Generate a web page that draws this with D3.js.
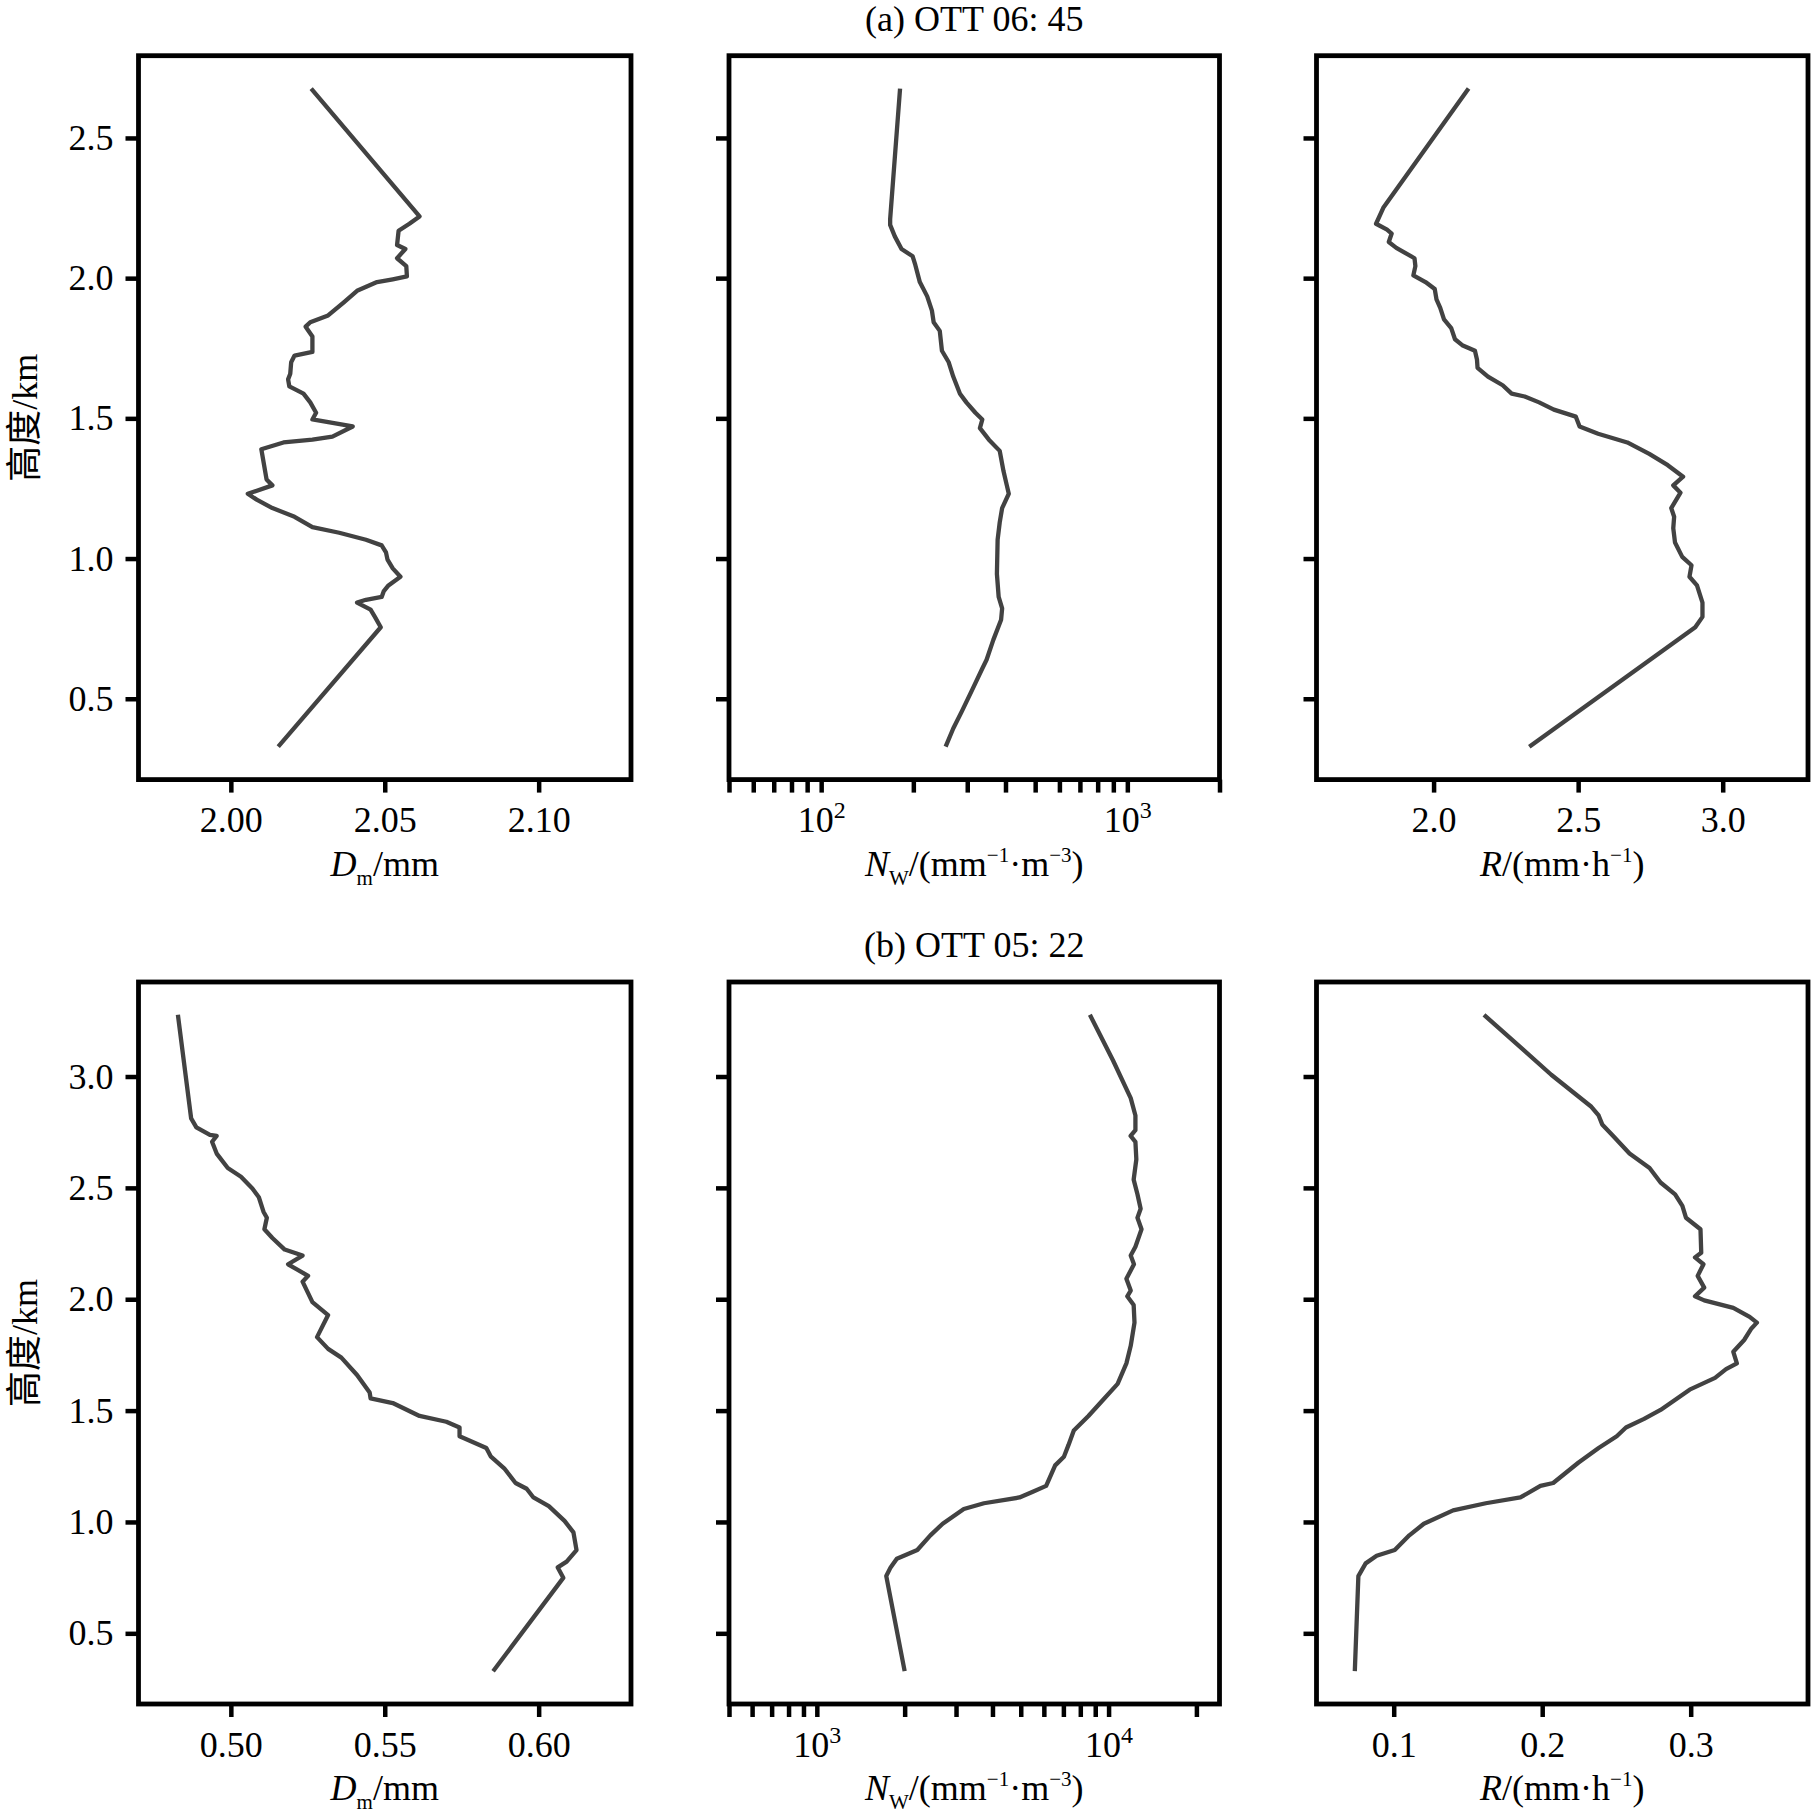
<!DOCTYPE html>
<html>
<head>
<meta charset="utf-8">
<script src="https://cdn.jsdelivr.net/npm/d3@7/dist/d3.min.js"></script>
<style>
  body { margin: 0; background: #fff; }
  text { font-family: "Liberation Serif", "Tinos", "Times New Roman", "DejaVu Serif", "Noto Sans CJK SC", serif; fill: #000; }
</style>
</head>
<body>
<svg id="chart" width="1819" height="1818"></svg>
<script>
// ---- (a) OTT 06:45 ----
var dmA_h = [2.676, 2.220, 2.194, 2.169, 2.118, 2.104, 2.071, 2.043, 2.006, 1.996, 1.986, 1.955, 1.914, 1.867, 1.843, 1.827, 1.792, 1.737, 1.724, 1.700, 1.659, 1.639, 1.614, 1.588, 1.557, 1.520, 1.496, 1.471, 1.435, 1.424, 1.414, 1.390, 1.282, 1.261, 1.231, 1.210, 1.180, 1.149, 1.112, 1.092, 1.067, 1.047, 1.022, 0.996, 0.965, 0.935, 0.904, 0.884, 0.863, 0.853, 0.843, 0.818, 0.792, 0.755, 0.329];
var dmA_v = [2.0261, 2.0613, 2.0580, 2.0545, 2.0540, 2.0567, 2.0540, 2.0570, 2.0572, 2.0526, 2.0475, 2.0410, 2.0367, 2.0316, 2.0258, 2.0243, 2.0265, 2.0265, 2.0207, 2.0196, 2.0193, 2.0186, 2.0190, 2.0236, 2.0258, 2.0277, 2.0265, 2.0396, 2.0330, 2.0265, 2.0171, 2.0099, 2.0116, 2.0135, 2.0055, 2.0084, 2.0135, 2.0207, 2.0265, 2.0352, 2.0439, 2.0490, 2.0504, 2.0509, 2.0526, 2.0551, 2.0512, 2.0497, 2.0490, 2.0439, 2.0410, 2.0454, 2.0468, 2.0487, 2.0154];

var nwA_h = [2.676, 2.210, 2.190, 2.149, 2.104, 2.078, 2.047, 1.986, 1.935, 1.884, 1.843, 1.812, 1.741, 1.700, 1.649, 1.588, 1.557, 1.520, 1.496, 1.465, 1.424, 1.384, 1.312, 1.261, 1.231, 1.180, 1.129, 1.067, 0.945, 0.863, 0.822, 0.782, 0.710, 0.639, 0.608, 0.537, 0.455, 0.394, 0.329];
var nwA_v = [181, 168, 168, 174, 183, 199, 203, 210, 222, 230, 233, 244, 248, 261, 270, 284, 298, 319, 336, 330, 353, 383, 394, 404, 410, 390, 383, 377, 375, 380, 390, 387, 365, 347, 336, 313, 288, 270, 255];

var rA_h = [2.676, 2.251, 2.194, 2.173, 2.159, 2.129, 2.108, 2.071, 2.043, 2.010, 1.986, 1.961, 1.924, 1.894, 1.853, 1.822, 1.782, 1.761, 1.741, 1.710, 1.680, 1.649, 1.618, 1.588, 1.578, 1.557, 1.531, 1.506, 1.471, 1.445, 1.414, 1.373, 1.333, 1.292, 1.261, 1.235, 1.180, 1.149, 1.108, 1.057, 1.006, 0.976, 0.935, 0.904, 0.843, 0.792, 0.755, 0.329];
var rA_v = [2.121, 1.826, 1.801, 1.839, 1.855, 1.845, 1.871, 1.934, 1.937, 1.930, 1.972, 2.004, 2.010, 2.023, 2.036, 2.061, 2.074, 2.099, 2.143, 2.150, 2.152, 2.188, 2.239, 2.270, 2.315, 2.365, 2.416, 2.492, 2.505, 2.569, 2.670, 2.746, 2.810, 2.863, 2.829, 2.854, 2.822, 2.832, 2.829, 2.835, 2.860, 2.892, 2.885, 2.911, 2.930, 2.930, 2.905, 2.331];

// ---- (b) OTT 05:22 ----
var dmB_h = [3.277, 2.812, 2.772, 2.738, 2.733, 2.707, 2.654, 2.589, 2.550, 2.497, 2.458, 2.393, 2.366, 2.314, 2.275, 2.223, 2.196, 2.157, 2.105, 2.079, 1.987, 1.929, 1.830, 1.777, 1.738, 1.660, 1.581, 1.555, 1.534, 1.476, 1.450, 1.424, 1.385, 1.332, 1.293, 1.241, 1.175, 1.149, 1.110, 1.071, 1.005, 0.953, 0.874, 0.822, 0.796, 0.749, 0.330];
var dmB_v = [0.4828, 0.4871, 0.4888, 0.4932, 0.4954, 0.4939, 0.4954, 0.4990, 0.5033, 0.5070, 0.5091, 0.5106, 0.5117, 0.5109, 0.5135, 0.5175, 0.5233, 0.5186, 0.5251, 0.5233, 0.5265, 0.5316, 0.5280, 0.5316, 0.5359, 0.5410, 0.5451, 0.5454, 0.5526, 0.5613, 0.5700, 0.5743, 0.5743, 0.5830, 0.5845, 0.5888, 0.5925, 0.5961, 0.5983, 0.6033, 0.6084, 0.6113, 0.6123, 0.6091, 0.6062, 0.6080, 0.5852];

var nwB_h = [3.277, 3.073, 2.903, 2.825, 2.759, 2.733, 2.707, 2.628, 2.537, 2.471, 2.406, 2.366, 2.314, 2.236, 2.196, 2.157, 2.092, 2.039, 2.013, 1.974, 1.895, 1.791, 1.712, 1.620, 1.542, 1.476, 1.411, 1.346, 1.293, 1.254, 1.162, 1.136, 1.110, 1.084, 1.058, 0.992, 0.940, 0.874, 0.835, 0.809, 0.796, 0.757, 0.330];
var nwB_v = [8630, 10350, 11910, 12360, 12360, 11900, 12360, 12450, 12190, 12560, 12880, 12560, 12970, 12360, 11910, 12220, 11510, 11910, 11590, 12190, 12270, 11910, 11510, 10740, 9480, 8530, 7600, 7290, 7030, 6560, 6110, 5500, 4950, 3740, 3190, 2700, 2450, 2210, 1880, 1820, 1790, 1730, 2000];

var rB_h = [3.277, 3.008, 2.864, 2.825, 2.785, 2.733, 2.654, 2.589, 2.524, 2.471, 2.419, 2.366, 2.314, 2.209, 2.188, 2.157, 2.105, 2.052, 2.013, 1.995, 1.961, 1.921, 1.895, 1.869, 1.817, 1.764, 1.712, 1.686, 1.647, 1.594, 1.503, 1.463, 1.424, 1.385, 1.332, 1.267, 1.175, 1.162, 1.110, 1.084, 1.052, 0.992, 0.940, 0.874, 0.848, 0.814, 0.757, 0.330];
var rB_v = [0.1608, 0.2061, 0.2331, 0.2380, 0.2404, 0.2478, 0.2588, 0.2723, 0.2797, 0.2895, 0.2944, 0.2968, 0.3066, 0.3071, 0.3029, 0.3086, 0.3047, 0.3091, 0.3029, 0.3091, 0.3287, 0.3397, 0.3446, 0.3409, 0.3360, 0.3287, 0.3311, 0.3238, 0.3164, 0.2993, 0.2797, 0.2686, 0.2564, 0.2502, 0.2380, 0.2245, 0.2074, 0.1988, 0.1853, 0.1620, 0.1400, 0.1203, 0.1105, 0.1007, 0.0885, 0.0811, 0.0762, 0.0738];

// tick values
var hTicksA = [0.5, 1.0, 1.5, 2.0, 2.5];
var hTicksB = [0.5, 1.0, 1.5, 2.0, 2.5, 3.0];
var dmTicksA = [2.00, 2.05, 2.10];
var dmTicksB = [0.50, 0.55, 0.60];
var rTicksA = [2.0, 2.5, 3.0];
var rTicksB = [0.1, 0.2, 0.3];
var nwMajorA = [100, 1000];
var nwMajorB = [1000, 10000];

var titles = ["(a) OTT 06: 45", "(b) OTT 05: 22"];

// layout (pixels)
var colX = [[138.5, 631], [729, 1219.5], [1316.5, 1808]];
var rowY = [[55.7, 779.6], [982, 1704]];
var lineColor = "#424242";
var fs = 36;
var serif = '"Liberation Serif", "Tinos", "Times New Roman", "DejaVu Serif", serif';

var svg = d3.select("#chart");

var panels = [
  { row: 0, col: 0, h: dmA_h, v: dmA_v, dom: [1.97, 2.13], ticks: dmTicksA, fmt: d3.format(".2f"), label: "dm" },
  { row: 0, col: 1, h: nwA_h, v: nwA_v, dom: [50, 2000], log: true, ticks: nwMajorA, label: "nw" },
  { row: 0, col: 2, h: rA_h, v: rA_v, dom: [1.595, 3.295], ticks: rTicksA, fmt: d3.format(".1f"), label: "r" },
  { row: 1, col: 0, h: dmB_h, v: dmB_v, dom: [0.47, 0.63], ticks: dmTicksB, fmt: d3.format(".2f"), label: "dm" },
  { row: 1, col: 1, h: nwB_h, v: nwB_v, dom: [500, 24000], log: true, ticks: nwMajorB, label: "nw" },
  { row: 1, col: 2, h: rB_h, v: rB_v, dom: [0.048, 0.379], ticks: rTicksB, fmt: d3.format(".1f"), label: "r" }
];

// shared y domain per row, matplotlib-like 5% margin
var rowDom = [0, 1].map(function (r) {
  var all = [];
  panels.filter(function (p) { return p.row === r; }).forEach(function (p) { all = all.concat(p.h); });
  var e = d3.extent(all), pad = (e[1] - e[0]) * 0.05;
  return [e[0] - pad, e[1] + pad];
});

function addSup(sel, base, sup) {
  sel.text(null);
  sel.append("tspan").text(base);
  sel.append("tspan").attr("font-size", 24).attr("dy", -14).text(sup);
}

function xLabel(g, kind, cx, yb) {
  var t = g.append("text").attr("x", cx).attr("y", yb)
    .attr("text-anchor", "middle").attr("font-size", fs)
    .style("font-family", serif);
  if (kind === "dm") {
    t.append("tspan").attr("font-style", "italic").text("D");
    t.append("tspan").attr("font-size", 21).attr("dy", 9).text("m");
    t.append("tspan").attr("dy", -9).text("/mm");
  } else if (kind === "nw") {
    t.append("tspan").attr("font-style", "italic").text("N");
    t.append("tspan").attr("font-size", 21).attr("dy", 9).text("W");
    t.append("tspan").attr("dy", -9).text("/(mm");
    t.append("tspan").attr("font-size", 21).attr("dy", -14).text("\u22121");
    t.append("tspan").attr("dy", 14).text("\u00b7m");
    t.append("tspan").attr("font-size", 21).attr("dy", -14).text("\u22123");
    t.append("tspan").attr("dy", 14).text(")");
  } else {
    t.append("tspan").attr("font-style", "italic").text("R");
    t.append("tspan").text("/(mm\u00b7h");
    t.append("tspan").attr("font-size", 21).attr("dy", -14).text("\u22121");
    t.append("tspan").attr("dy", 14).text(")");
  }
}

panels.forEach(function (p) {
  var x0 = colX[p.col][0], x1 = colX[p.col][1];
  var y0 = rowY[p.row][0], y1 = rowY[p.row][1];
  var x = (p.log ? d3.scaleLog() : d3.scaleLinear()).domain(p.dom).range([x0, x1]);
  var y = d3.scaleLinear().domain(rowDom[p.row]).range([y1, y0]);
  var g = svg.append("g");

  // curve
  var pts = p.h.map(function (h, i) { return [p.v[i], h]; });
  g.append("path")
    .datum(pts)
    .attr("fill", "none")
    .attr("stroke", lineColor)
    .attr("stroke-width", 4.3)
    .attr("stroke-linejoin", "round")
    .attr("d", d3.line().x(function (d) { return x(d[0]); }).y(function (d) { return y(d[1]); }));

  // y axis
  var hTicks = p.row === 0 ? hTicksA : hTicksB;
  var ya = g.append("g").attr("transform", "translate(" + x0 + ",0)")
    .call(d3.axisLeft(y).tickValues(hTicks).tickSize(13).tickPadding(12)
      .tickFormat(p.col === 0 ? d3.format(".1f") : function () { return ""; }));

  // x axis
  var xa;
  if (p.log) {
    var minor = x.ticks().filter(function (t) { return t >= p.dom[0] - 1e-9 && t <= p.dom[1] + 1e-9; });
    xa = g.append("g").attr("transform", "translate(0," + y1 + ")")
      .call(d3.axisBottom(x).tickValues(minor).tickSize(13).tickPadding(14)
        .tickFormat(function () { return ""; }));
    xa.selectAll(".tick text").each(function (d) {
      if (p.ticks.indexOf(d) >= 0) addSup(d3.select(this), "10", String(Math.round(Math.log10(d))));
    });
  } else {
    xa = g.append("g").attr("transform", "translate(0," + y1 + ")")
      .call(d3.axisBottom(x).tickValues(p.ticks).tickSize(13).tickPadding(14).tickFormat(p.fmt));
  }

  [ya, xa].forEach(function (a) {
    a.attr("font-family", null);
    a.select(".domain").remove();
    a.selectAll(".tick line").attr("stroke", "#000").attr("stroke-width", 4.5);
    a.selectAll(".tick text").attr("font-size", fs).attr("fill", "#000")
      .style("font-family", serif);
  });

  // frame
  g.append("rect")
    .attr("x", x0).attr("y", y0)
    .attr("width", x1 - x0).attr("height", y1 - y0)
    .attr("fill", "none").attr("stroke", "#000").attr("stroke-width", 4.8);

  xLabel(g, p.label, (x0 + x1) / 2, y1 + 96);

  if (p.col === 0) {
    var cy = (y0 + y1) / 2;
    g.append("text")
      .attr("transform", "translate(37," + cy + ") rotate(-90)")
      .attr("text-anchor", "middle")
      .attr("font-size", fs)
      .style("font-family", '"Liberation Serif", "Tinos", "DejaVu Serif", "Noto Sans CJK SC", serif')
      .text("高度/km");
  }
});

titles.forEach(function (t, r) {
  svg.append("text")
    .attr("x", (colX[1][0] + colX[1][1]) / 2)
    .attr("y", rowY[r][0] - 25)
    .attr("text-anchor", "middle")
    .attr("font-size", fs)
    .style("font-family", serif)
    .text(t);
});
</script>
</body>
</html>
